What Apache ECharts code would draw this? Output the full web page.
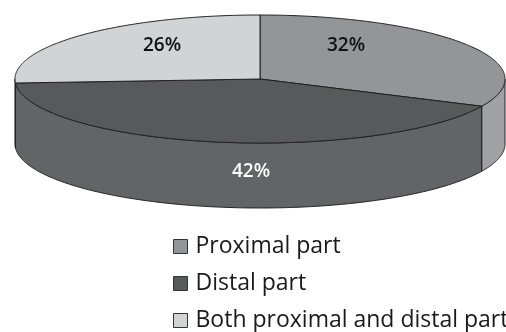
<!DOCTYPE html>
<html>
<head>
<meta charset="utf-8">
<script src="https://cdn.jsdelivr.net/npm/echarts@6/dist/echarts.min.js"></script>
<style>
  html, body { margin: 0; padding: 0; background: #ffffff; }
  #chart { width: 506px; height: 332px; }
</style>
</head>
<body>
<div id="chart"></div>
<script>
// Share of cases by location (%)
const categories = ['Proximal part', 'Distal part', 'Both proximal and distal part'];
const percents = [32, 42, 26];

// Slice colours: top face and the front wall
const topColors = ['#939598', '#58595b', '#d1d3d4'];
const sideColors = ['#9fa1a4', '#636466', '#d9dadc'];
const labelColors = ['#111111', '#ffffff', '#111111'];

// Pie disc layout (pixels)
const CX = 260, CY = 79, RX = 245, RY = 64, DEPTH = 65;
const EDGE = '#231f20';
// Label anchors for each slice
const LABEL_AT = [[346, 46], [251, 172], [162, 46]];

const total = percents.reduce((a, b) => a + b, 0);
const startAngles = [];
let acc = 0;
percents.forEach(v => { startAngles.push(acc / total * 360); acc += v; });

function pt(deg, dy) {
  const r = deg * Math.PI / 180;
  return [CX + RX * Math.sin(r), CY - RY * Math.cos(r) + (dy || 0)];
}
function arc(a0, a1, dy) {
  const pts = [];
  const n = Math.max(2, Math.ceil(Math.abs(a1 - a0) / 0.5));
  for (let i = 0; i <= n; i++) pts.push(pt(a0 + (a1 - a0) * i / n, dy));
  return pts;
}

function makeRender(idx) {
  return function (params, api) {
    const value = api.value(0);
    const a0 = startAngles[idx];
    const a1 = a0 + value / total * 360;
    const children = [];
    // front wall: only the part facing the viewer (90..270 deg)
    const s = Math.max(a0, 90), e = Math.min(a1, 270);
    if (e > s) {
      const pts = arc(s, e, 0).concat(arc(e, s, DEPTH));
      children.push({
        type: 'polygon',
        shape: { points: pts },
        style: { fill: sideColors[idx], stroke: EDGE, lineWidth: 1 }
      });
    }
    // top face
    children.push({
      type: 'polygon',
      shape: { points: [[CX, CY]].concat(arc(a0, a1, 0)) },
      style: { fill: topColors[idx], stroke: EDGE, lineWidth: 1 }
    });
    // value label
    children.push({
      type: 'text',
      x: LABEL_AT[idx][0],
      y: LABEL_AT[idx][1],
      style: {
        text: value + '%',
        fill: labelColors[idx],
        font: '600 19px "Open Sans", sans-serif',
        align: 'center',
        verticalAlign: 'middle'
      }
    });
    return { type: 'group', children: children };
  };
}

const chart = echarts.init(document.getElementById('chart'), null, { renderer: 'canvas' });
chart.setOption({
  animation: false,
  backgroundColor: '#ffffff',
  legend: {
    orient: 'vertical',
    left: 173,
    top: 235,
    padding: 0,
    itemWidth: 14,
    itemHeight: 14,
    itemGap: 14,
    icon: 'rect',
    selectedMode: false,
    itemStyle: { borderColor: '#333333', borderWidth: 1 },
    textStyle: { fontFamily: 'Open Sans', fontSize: 23, color: '#1a1a1a', padding: [0, 0, 0, 3] },
    data: categories
  },
  series: categories.map((name, i) => ({
    type: 'custom',
    name: name,
    coordinateSystem: 'none',
    silent: true,
    itemStyle: { color: topColors[i] },
    renderItem: makeRender(i),
    data: [[percents[i]]]
  }))
});
</script>
</body>
</html>
